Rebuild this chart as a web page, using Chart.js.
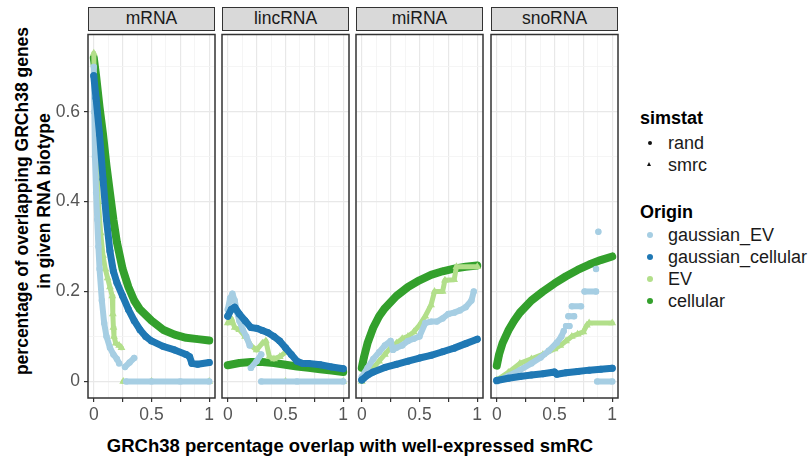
<!DOCTYPE html>
<html>
<head>
<meta charset="utf-8">
<title>GRCh38 overlap by RNA biotype</title>
<script src="https://cdn.jsdelivr.net/npm/chart.js@4.4.1/dist/chart.umd.min.js"></script>
<style>
  body { margin: 0; background: #fff; font-family: "Liberation Sans", Arial, sans-serif; }
  #wrap { position: relative; width: 812px; height: 458px; overflow: hidden; }
  .strip {
    position: absolute; top: 7px; width: 127px; height: 24px; box-sizing: border-box;
    background: #d9d9d9; border: 1.5px solid #333; color: #1a1a1a;
    font-size: 17.5px; line-height: 21px; text-align: center;
  }
  .panel { position: absolute; }
  .ytitle {
    position: absolute; width: 420px; height: 22px; line-height: 22px; text-align: center;
    font-weight: bold; font-size: 17.5px; color: #000; transform: rotate(-90deg);
    white-space: nowrap;
  }
  .xtitle {
    position: absolute; left: 0; width: 700px; top: 435px; text-align: center;
    font-weight: bold; font-size: 18.5px; color: #000; white-space: nowrap;
  }
  .lg-title { position: absolute; left: 640px; font-weight: bold; font-size: 18px; line-height: 20px; }
  .lg-item  { position: absolute; left: 668px; font-size: 18px; line-height: 20px; color: #1a1a1a; white-space: nowrap; }
  .lg-key   { position: absolute; }
</style>
</head>
<body>
<div id="wrap">
  <div class="ytitle" style="left:-188px; top:190px;">percentage of overlapping GRCh38 genes</div>
  <div class="ytitle" style="left:-166px; top:190px;">in given RNA biotype</div>
  <div class="xtitle">GRCh38 percentage overlap with well-expressed smRC</div>
</div>

<script>
/* =========================================================
   Données (une liste [x, y] par courbe,
   null = coupure du tracé)
   ========================================================= */
const PANELS   = ['mRNA', 'lincRNA', 'miRNA', 'snoRNA'];
const ORIGINS  = ['gaussian_EV', 'gaussian_cellular', 'EV', 'cellular'];
const SIMSTATS = ['rand', 'smrc'];

const X_BREAKS = [0, 0.125, 0.25, 0.375, 0.5, 0.625, 0.75, 0.875, 1];
const X_LABELS = ['0', '', '', '', '0.5', '', '', '', '1'];
const Y_BREAKS = [0, 0.1, 0.2, 0.3, 0.4, 0.5, 0.6, 0.7];
const Y_LABELS = ['0', '', '0.2', '', '0.4', '', '0.6', ''];

/* ---- mRNA ---- */
const mrnaGaussEV = [[0,0.70],[0.005,0.60],[0.01,0.50],[0.02,0.42],[0.03,0.36],[0.04,0.30],[0.05,0.25],
  [0.07,0.18],[0.09,0.13],[0.11,0.10],[0.14,0.075],[0.17,0.06],[0.2,0.05],[0.22,0.04],null,
  [0.27,0.032],[0.31,0.042],[0.35,0.052],null,[0.28,0],[0.5,0],[0.75,0],[1,0]];
const mrnaGaussCell = [[0,0.68],[0.02,0.63],[0.05,0.55],[0.08,0.45],[0.11,0.36],[0.14,0.29],[0.17,0.245],
  [0.2,0.22],[0.25,0.19],[0.3,0.16],[0.35,0.135],[0.4,0.115],[0.45,0.10],[0.5,0.09],[0.6,0.078],
  [0.7,0.07],[0.8,0.06],[0.83,0.055],[0.85,0.04],[0.9,0.038],[1,0.042]];
const mrnaEV = [[0,0.73],[0.01,0.60],[0.02,0.50],[0.04,0.40],[0.06,0.33],[0.08,0.28],[0.1,0.25],[0.12,0.23],
  [0.14,0.21],[0.16,0.19],[0.165,0.15],[0.17,0.12],[0.175,0.10],[0.19,0.085],[0.22,0.08],[0.24,0.075],null,
  [0.255,0],[0.5,0],[1,0]];
const mrnaCell = [[0,0.72],[0.02,0.68],[0.05,0.61],[0.08,0.55],[0.11,0.48],[0.14,0.42],[0.17,0.36],[0.2,0.31],
  [0.25,0.25],[0.3,0.21],[0.35,0.18],[0.4,0.16],[0.5,0.135],[0.6,0.115],[0.7,0.104],[0.8,0.097],
  [0.9,0.094],[1,0.091]];

/* ---- lincRNA ---- */
const lincGaussEV = [[0,0.16],[0.02,0.185],[0.04,0.195],[0.06,0.18],[0.08,0.155],[0.1,0.135],[0.13,0.115],
  [0.16,0.10],[0.19,0.08],null,[0.2,0.03],[0.25,0.045],[0.29,0.06],null,[0.29,0],[0.6,0],[1,0]];
const lincGaussCell = [[0,0.145],[0.03,0.16],[0.06,0.165],[0.1,0.15],[0.15,0.135],[0.2,0.12],[0.25,0.118],
  [0.3,0.113],[0.35,0.108],[0.4,0.10],[0.45,0.09],[0.5,0.075],[0.55,0.06],[0.6,0.045],[0.65,0.04],
  [0.7,0.04],[0.8,0.037],[0.9,0.032],[1,0.028]];
const lincEV = [[0,0.13],[0.03,0.14],[0.06,0.12],[0.1,0.115],[0.15,0.10],[0.2,0.08],[0.25,0.07],[0.3,0.085],
  [0.33,0.09],[0.36,0.055],[0.4,0.05],[0.45,0.055],[0.5,0.065],[0.52,0.07],null,[0.5,0],[1,0]];
const lincCell = [[0,0.036],[0.1,0.041],[0.2,0.043],[0.3,0.043],[0.4,0.041],[0.5,0.037],[0.6,0.033],
  [0.7,0.03],[0.8,0.027],[0.9,0.024],[1,0.021]];

/* ---- miRNA ---- */
const mirGaussEV = [[0,0.01],[0.05,0.03],[0.1,0.05],[0.15,0.065],[0.2,0.08],[0.25,0.09],[0.27,0.07],
  [0.3,0.075],[0.35,0.08],[0.4,0.09],[0.45,0.095],[0.5,0.10],[0.55,0.13],[0.6,0.133],[0.65,0.133],
  [0.7,0.14],[0.75,0.15],[0.8,0.153],[0.85,0.158],[0.9,0.165],[0.95,0.18],[0.97,0.20]];
const mirGaussCell = [[0,0.003],[0.05,0.014],[0.1,0.021],[0.2,0.031],[0.3,0.038],[0.4,0.045],[0.5,0.052],
  [0.6,0.058],[0.7,0.066],[0.8,0.074],[0.9,0.084],[1,0.094]];
const mirEV = [[0,0],[0.05,0.015],[0.1,0.03],[0.15,0.045],[0.2,0.06],[0.25,0.075],[0.3,0.085],[0.35,0.095],
  [0.4,0.10],[0.45,0.11],[0.5,0.125],[0.55,0.145],[0.6,0.17],[0.63,0.20],[0.7,0.20],[0.72,0.225],
  [0.8,0.226],[0.82,0.255],[1,0.255]];
const mirCell = [[0,0.03],[0.02,0.055],[0.05,0.085],[0.1,0.12],[0.15,0.145],[0.2,0.163],[0.3,0.19],
  [0.4,0.21],[0.5,0.225],[0.6,0.237],[0.7,0.245],[0.8,0.251],[0.9,0.255],[1,0.258]];

/* ---- snoRNA ---- */
const snoGaussEV = [[0,0],[0.1,0.012],[0.2,0.025],[0.3,0.04],[0.38,0.053],[0.45,0.068],[0.52,0.086],
  [0.56,0.10],[0.58,0.112],null,[0.6,0.123],[0.63,0.123],null,[0.62,0.145],[0.67,0.145],null,
  [0.65,0.167],[0.73,0.167],null,[0.76,0.20],[0.86,0.20],null,[0.86,0.25],null,[0.88,0.333],null,
  [0.87,0],[1,0]];
const snoGaussCell = [[0,0.002],[0.1,0.007],[0.2,0.011],[0.3,0.014],[0.4,0.017],[0.5,0.021],[0.52,0.016],
  [0.6,0.019],[0.7,0.022],[0.8,0.025],[0.9,0.027],[1,0.029]];
const snoEV = [[0,0.003],[0.1,0.02],[0.2,0.04],[0.3,0.05],[0.4,0.06],[0.5,0.072],[0.55,0.08],[0.6,0.09],
  [0.65,0.10],[0.7,0.105],[0.75,0.11],[0.78,0.125],[0.8,0.13],[1,0.13]];
const snoCell = [[0,0.035],[0.02,0.06],[0.05,0.085],[0.1,0.113],[0.15,0.135],[0.2,0.153],[0.3,0.18],
  [0.4,0.20],[0.5,0.218],[0.6,0.234],[0.7,0.248],[0.8,0.26],[0.9,0.27],[1,0.278]];

const SERIES = {
  mRNA:    { gaussian_EV: mrnaGaussEV, gaussian_cellular: mrnaGaussCell, EV: mrnaEV, cellular: mrnaCell },
  lincRNA: { gaussian_EV: lincGaussEV, gaussian_cellular: lincGaussCell, EV: lincEV, cellular: lincCell },
  miRNA:   { gaussian_EV: mirGaussEV,  gaussian_cellular: mirGaussCell,  EV: mirEV,  cellular: mirCell },
  snoRNA:  { gaussian_EV: snoGaussEV,  gaussian_cellular: snoGaussCell,  EV: snoEV,  cellular: snoCell },
};

/* ---- Styles ---- */
const STYLE = {
  gaussian_EV:       { color: '#a6cee3', sim: 'rand', line: 6, r: 3.2 },
  gaussian_cellular: { color: '#1f78b4', sim: 'rand', line: 7, r: 3.5 },
  EV:                { color: '#b2df8a', sim: 'smrc', line: 5, r: 4.5 },
  cellular:          { color: '#33a02c', sim: 'smrc', line: 8, r: 4 },
};
const SHAPE = { rand: 'circle', smrc: 'triangle' };
const DRAW_ORDER = ['gaussian_cellular', 'gaussian_EV', 'EV', 'cellular']; // premier = dessus

/* ---- Géométrie ---- */
const PANEL_LEFT = [88, 222, 356, 491];
const PANEL_W = 127, PANEL_TOP = 30, PANEL_H = 368;
const Y_AXIS_W = 60, PAD = 6, X_AXIS_H = 32;

Chart.defaults.font.family = '"Liberation Sans", Arial, sans-serif';

const toPoints = list => list.map(p => p ? { x: p[0], y: p[1] } : { x: 0, y: null });

const panelBorder = {
  id: 'panelBorder',
  afterDraw(chart) {
    const { ctx, chartArea: a } = chart;
    ctx.save();
    ctx.strokeStyle = '#333';
    ctx.lineWidth = 1.5;
    ctx.strokeRect(a.left, a.top, a.right - a.left, a.bottom - a.top);
    ctx.restore();
  },
};

const wrap = document.getElementById('wrap');

PANELS.forEach((name, i) => {
  const first = i === 0;
  const leftSpace = first ? Y_AXIS_W : PAD;

  const strip = document.createElement('div');
  strip.className = 'strip';
  strip.style.left = PANEL_LEFT[i] + 'px';
  strip.textContent = name;
  wrap.appendChild(strip);

  const canvas = document.createElement('canvas');
  canvas.className = 'panel';
  canvas.width  = leftSpace + PANEL_W + PAD;
  canvas.height = PANEL_H + X_AXIS_H;
  canvas.style.left = (PANEL_LEFT[i] - leftSpace) + 'px';
  canvas.style.top  = PANEL_TOP + 'px';
  wrap.appendChild(canvas);

  const datasets = DRAW_ORDER.map(origin => {
    const st = STYLE[origin];
    return {
      label: origin,
      data: toPoints(SERIES[name][origin]),
      showLine: true,
      spanGaps: false,
      borderColor: st.color,
      backgroundColor: st.color,
      borderWidth: st.line,
      borderCapStyle: 'round',
      borderJoinStyle: 'round',
      pointStyle: SHAPE[st.sim],
      pointRadius: st.r,
      pointBorderWidth: 0,
      tension: 0,
    };
  });

  new Chart(canvas, {
    type: 'scatter',
    data: { datasets },
    options: {
      responsive: false,
      animation: false,
      events: [],
      layout: { padding: { left: first ? 0 : PAD, right: PAD, top: 0, bottom: 0 } },
      plugins: { legend: { display: false }, tooltip: { enabled: false } },
      scales: {
        x: {
          type: 'linear', min: -0.05, max: 1.05,
          afterBuildTicks: s => { s.ticks = X_BREAKS.map(v => ({ value: v })); },
          afterFit: s => { s.height = X_AXIS_H; s.paddingLeft = 0; s.paddingRight = 0; },
          border: { display: false },
          grid: {
            color: c => (c.index % 2 === 0 ? '#e8e8e8' : '#f2f2f2'),
            lineWidth: c => (c.index % 2 === 0 ? 1.2 : 0.8),
            tickColor: c => (c.index % 2 === 0 ? '#333' : 'rgba(0,0,0,0)'),
            tickLength: 4,
            drawTicks: true,
          },
          ticks: {
            autoSkip: false, maxRotation: 0, padding: 3,
            color: '#555', font: { size: 17.5 },
            callback: (v, idx) => X_LABELS[idx],
          },
        },
        y: {
          type: 'linear', min: -0.037, max: 0.772,
          afterBuildTicks: s => { s.ticks = Y_BREAKS.map(v => ({ value: v })); },
          afterFit: s => { s.width = first ? Y_AXIS_W : 0; s.paddingTop = 0; s.paddingBottom = 0; },
          border: { display: false },
          grid: {
            color: c => (c.index % 2 === 0 ? '#e8e8e8' : '#f2f2f2'),
            lineWidth: c => (c.index % 2 === 0 ? 1.2 : 0.8),
            tickColor: c => (c.index % 2 === 0 ? '#333' : 'rgba(0,0,0,0)'),
            tickLength: 4,
            drawTicks: first,
          },
          ticks: {
            display: first, padding: 4,
            color: '#555', font: { size: 17.5 },
            callback: (v, idx) => Y_LABELS[idx],
          },
        },
      },
    },
    plugins: [panelBorder],
  });
});

/* =========================================================
   Légende (HTML)
   ========================================================= */
function addText(cls, text, top) {
  const el = document.createElement('div');
  el.className = cls;
  el.style.top = top + 'px';
  el.textContent = text;
  wrap.appendChild(el);
}

function addKey(shape, color, cx, cy, size) {
  const el = document.createElement('div');
  el.className = 'lg-key';
  if (shape === 'circle') {
    el.style.cssText += `left:${cx - size}px;top:${cy - size}px;width:${size * 2}px;height:${size * 2}px;border-radius:50%;background:${color};`;
  } else {
    el.style.cssText += `left:${cx - size}px;top:${cy - size}px;width:0;height:0;` +
      `border-left:${size}px solid transparent;border-right:${size}px solid transparent;border-bottom:${size * 1.7}px solid ${color};`;
  }
  wrap.appendChild(el);
}

addText('lg-title', 'simstat', 108);
SIMSTATS.forEach((s, k) => {
  const cy = 143 + k * 22;
  addKey(SHAPE[s], '#111', 650, cy, s === 'rand' ? 2.2 : 2.8);
  addText('lg-item', s, cy - 10);
});

addText('lg-title', 'Origin', 202);
ORIGINS.forEach((o, k) => {
  const cy = 235 + k * 22;
  addKey('circle', STYLE[o].color, 650, cy, 3.2);
  addText('lg-item', o, cy - 10);
});
</script>
</body>
</html>
